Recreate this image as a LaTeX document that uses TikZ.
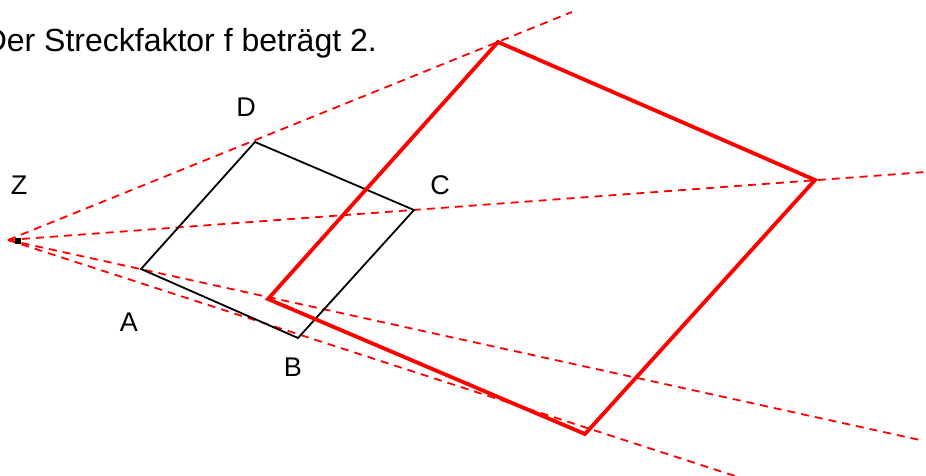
\documentclass[tikz,border=0pt]{standalone}
\usepackage{fontspec}
\setmainfont{Liberation Sans}
\begin{document}
\begin{tikzpicture}[x=1pt,y=-1pt,
  orig/.style={black, line width=1.8pt, line join=miter},
  img/.style={red, line width=3.8pt, line join=miter},
  ray/.style={red, line width=1.8pt, dash pattern=on 8pt off 6pt},
  lbl/.style={font=\fontsize{27}{32}\selectfont, inner sep=0pt},
  ttl/.style={font=\fontsize{32}{38}\selectfont, inner sep=0pt},
  ]
\useasboundingbox (0,0) rectangle (926,476);
% centre and ray ends
\coordinate (Z0) at (8,240);
\coordinate (eD) at (572,12);
\coordinate (eC) at (926,172);
\coordinate (eA) at (920,440);
\coordinate (eB) at (735,476);
% original figure
\coordinate (A) at (141,269);
\coordinate (B) at (298,338);
\coordinate (C) at (414,210);
\coordinate (D) at (255,142);
% image figure
\coordinate (Ap) at (268,299);
\coordinate (Bp) at (585,434);
\coordinate (Cp) at (815,180);
\coordinate (Dp) at (498,42);
% rays
\draw[ray] (Z0) -- (eD);
\draw[ray] (Z0) -- (eC);
\draw[ray] (Z0) -- (eA);
\draw[ray] (Z0) -- (eB);
% figures
\draw[orig] (A) -- (B) -- (C) -- (D) -- cycle;
\draw[img] (Ap) -- (Bp) -- (Cp) -- (Dp) -- cycle;
% centre point
\node[fill=black, minimum size=6pt, inner sep=0pt] (Z) at (18,241) {};
% labels
\node[lbl] (lZ) at (19,185) {Z};
\node[lbl] (lD) at (246,107) {D};
\node[lbl] (lC) at (440,185) {C};
\node[lbl] (lA) at (129,322) {A};
\node[lbl] (lB) at (293,367) {B};
\node[ttl, anchor=base east] (title) at (377,52) {Der Streckfaktor f beträgt 2.};
\end{tikzpicture}
\end{document}
